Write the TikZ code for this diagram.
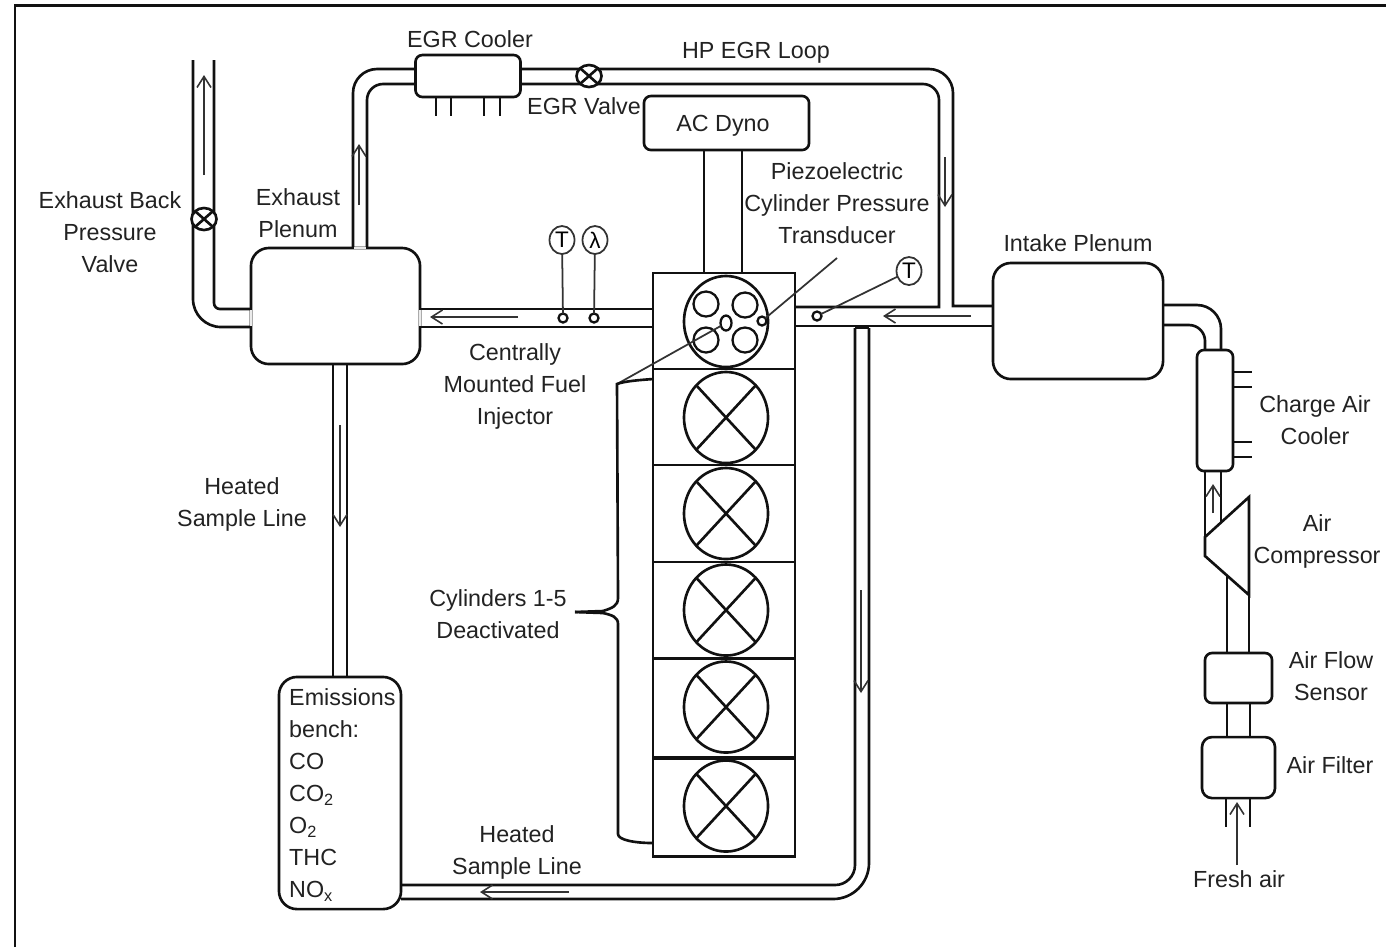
\documentclass[tikz,border=0pt]{standalone}
\usepackage{fontspec}
\setmainfont{Liberation Sans}
\usetikzlibrary{arrows.meta, positioning, calc, shapes.geometric}
\definecolor{inkblack}{HTML}{111111}
\definecolor{flowgray}{HTML}{333333}
\definecolor{textgray}{HTML}{222222}

\begin{document}
\begin{tikzpicture}[
  x=0.01cm, y=-0.01cm,
  wall/.style={draw=inkblack, line width=0.75pt},
  thinline/.style={draw=flowgray, line width=0.5pt},
  flow/.style={draw=flowgray, line width=0.45pt, -{Straight Barb[length=1.1mm, width=1.4mm]}},
  gapline/.style={draw=black!8, line width=0.75pt},
  box/.style={rectangle, rounded corners=1.8mm, draw=inkblack, line width=0.75pt, fill=white, outer sep=0pt},
  smallbox/.style={box, rounded corners=0.7mm},
  cell/.style={rectangle, draw=inkblack, line width=0.75pt, minimum width=1.42cm, outer sep=0pt},
  cyl/.style={ellipse, draw=inkblack, line width=0.75pt, minimum width=0.84cm, minimum height=0.91cm, inner sep=0pt, outer sep=0pt},
  port/.style={circle, draw=inkblack, line width=0.65pt, minimum size=0.25cm, inner sep=0pt, outer sep=0pt},
  ring/.style={circle, draw=inkblack, line width=0.65pt, fill=white, minimum size=0.09cm, inner sep=0pt, outer sep=0pt},
  valve/.style={ellipse, draw=inkblack, line width=0.75pt, fill=white, minimum width=0.25cm, minimum height=0.22cm, inner sep=0pt, outer sep=0pt},
  sensor/.style={ellipse, draw=flowgray, line width=0.5pt, fill=white, minimum width=0.25cm, minimum height=0.28cm, inner sep=0pt, outer sep=0pt, font=\fontsize{6.4}{8}\selectfont},
  lbl/.style={align=center, inner sep=0pt, text=textgray, font=\fontsize{6.63}{9.1}\selectfont},
]
\useasboundingbox (0,0) rectangle (1386,947);

% Frame
\coordinate (framea) at (15,947);
\coordinate (frameb) at (15,5.5);
\coordinate (framec) at (1386,5.5);
\draw[draw=inkblack, line width=0.6pt] (framea) -- (frameb) -- (framec);

% Engine
\node[cell, minimum height=0.96cm] (cell1) at (724,321) {};
\node[cell, minimum height=0.96cm, below=0pt of cell1] (cell2) {};
\node[cell, minimum height=0.97cm, below=0pt of cell2] (cell3) {};
\node[cell, minimum height=0.96cm, below=0pt of cell3] (cell4) {};
\node[cell, minimum height=1.00cm, below=0pt of cell4] (cell5) {};
\node[cell, minimum height=0.98cm, below=0pt of cell5] (cell6) {};
\draw[wall, line width=1.2pt] (cell5.south west) -- (cell5.south east);

\node[cyl] (head) at (726,321.5) {};
\node[cyl] (cyl2) at (726,417.5) {};
\node[cyl] (cyl3) at (726,513.5) {};
\node[cyl] (cyl4) at (726,610) {};
\node[cyl] (cyl5) at (726,707) {};
\node[cyl] (cyl6) at (726,806) {};
\draw[wall] (cyl2.north east) -- (cyl2.south west) (cyl2.north west) -- (cyl2.south east);
\draw[wall] (cyl3.north east) -- (cyl3.south west) (cyl3.north west) -- (cyl3.south east);
\draw[wall] (cyl4.north east) -- (cyl4.south west) (cyl4.north west) -- (cyl4.south east);
\draw[wall] (cyl5.north east) -- (cyl5.south west) (cyl5.north west) -- (cyl5.south east);
\draw[wall] (cyl6.north east) -- (cyl6.south west) (cyl6.north west) -- (cyl6.south east);

\node[port] (port1) at (706,304) {};
\node[port] (port2) at (745,305) {};
\node[port] (port3) at (706,340) {};
\node[port] (port4) at (745,340) {};
\node[ellipse, draw=inkblack, line width=0.65pt, minimum width=0.11cm, minimum height=0.15cm, inner sep=0pt, outer sep=0pt] (injector) at (726,323) {};
\node[ring] (transducer) at (762,321) {};

% Components
\node[box, minimum width=1.69cm, minimum height=1.16cm] (exhplenum) at (335.5,306) {};
\node[box, minimum width=1.70cm, minimum height=1.16cm] (intplenum) at (1078,321) {};
\node[smallbox, minimum width=1.05cm, minimum height=0.42cm] (cooler) at (468,76) {};
\node[smallbox, minimum width=1.65cm, minimum height=0.54cm] (dyno) at (726.5,123) {};
\node[box, minimum width=1.22cm, minimum height=2.32cm] (emisbox) at (340,793) {};
\node[smallbox, minimum width=0.36cm, minimum height=1.21cm] (cac) at (1215,410.5) {};
\node[smallbox, minimum width=0.67cm, minimum height=0.50cm] (airflow) at (1238.5,678) {};
\node[smallbox, rounded corners=1mm, minimum width=0.73cm, minimum height=0.61cm, below=3.4mm of airflow] (filter) {};

% Exhaust side pipes
\coordinate (tailleft) at (193,60);
\coordinate (tailright) at (214,60);
\draw[wall] (exhplenum.east |- 0,309) -- (cell1.west |- 0,309);
\draw[wall] (exhplenum.east |- 0,327) -- (cell1.west |- 0,327);
\draw[wall, rounded corners=2.8mm] (tailleft) -- (193,327) -- (exhplenum.west |- 0,327);
\draw[wall, rounded corners=0.6mm] (tailright) -- (214,309) -- (exhplenum.west |- 0,309);
\draw[wall] (333,0 |- exhplenum.south) -- (333,0 |- emisbox.north);
\draw[wall] (347,0 |- exhplenum.south) -- (347,0 |- emisbox.north);

% EGR loop
\draw[wall, rounded corners=2.4mm] (353,0 |- exhplenum.north) -- (353,69) -- (cooler.west |- 0,69);
\draw[wall, rounded corners=1.6mm] (367,0 |- exhplenum.north) -- (367,84) -- (cooler.west |- 0,84);
\draw[wall] (cooler.east |- 0,69) [rounded corners=2.4mm] -- (953,69) [sharp corners] -- (953,306) -- (intplenum.west |- 0,306);
\draw[wall] (cooler.east |- 0,84) [rounded corners=1.6mm] -- (939,84) [sharp corners] -- (939,307) -- (cell1.east |- 0,307);
\draw[wall] (cell1.east |- 0,326) -- (intplenum.west |- 0,326);

% Second sample line
\coordinate (samplea) at (855,328);
\coordinate (sampleb) at (869,328);
\draw[wall] (samplea) -- (sampleb);
\draw[wall, rounded corners=2mm] (samplea) -- (855,885) -- (emisbox.east |- 0,885);
\draw[wall, rounded corners=3.6mm] (sampleb) -- (869,899) -- (emisbox.east |- 0,899);

% Intake side pipes
\coordinate (compa) at (1205,537);
\coordinate (compb) at (1249,497);
\coordinate (compc) at (1249,595);
\coordinate (compd) at (1205,556);
\coordinate (compe) at (1221,522);
\coordinate (compf) at (1227,576);
\draw[wall, rounded corners=2.4mm] (intplenum.east |- 0,305) -- (1221,305) -- (1221,0 |- cac.north);
\draw[wall, rounded corners=1.6mm] (intplenum.east |- 0,325) -- (1205,325) -- (1205,0 |- cac.north);
\draw[wall] (compa) -- (compb) -- (compc) -- (compd) -- cycle;
\draw[wall] (1205,0 |- cac.south) -- (compa);
\draw[wall] (1221,0 |- cac.south) -- (compe);
\draw[wall] (compf) -- (compf |- airflow.north);
\draw[wall] (compc) -- (compc |- airflow.north);
\draw[wall] (1227,0 |- airflow.south) -- (1227,0 |- filter.north);
\draw[wall] (1250,0 |- airflow.south) -- (1250,0 |- filter.north);
\coordinate (inleta) at (1226,827);
\coordinate (inletb) at (1250,827);
\draw[wall] (inleta |- filter.south) -- (inleta);
\draw[wall] (inletb |- filter.south) -- (inletb);

% Dyno shaft
\draw[wall] (704,0 |- dyno.south) -- (704,0 |- cell1.north);
\draw[wall] (742,0 |- dyno.south) -- (742,0 |- cell1.north);

% Openings into the plenum
\draw[gapline] (exhplenum.west |- 0,310) -- (exhplenum.west |- 0,326);
\draw[gapline] (exhplenum.east |- 0,310) -- (exhplenum.east |- 0,326);
\draw[gapline] (354,0 |- exhplenum.north) -- (366,0 |- exhplenum.north);

% Cooler tabs
\coordinate (taba) at (436,116);
\coordinate (tabb) at (451,116);
\coordinate (tabc) at (484,116);
\coordinate (tabd) at (500,116);
\draw[wall] (taba |- cooler.south) -- (taba);
\draw[wall] (tabb |- cooler.south) -- (tabb);
\draw[wall] (tabc |- cooler.south) -- (tabc);
\draw[wall] (tabd |- cooler.south) -- (tabd);
\coordinate (fina) at (1252,372);
\coordinate (finb) at (1252,387);
\coordinate (finc) at (1252,442);
\coordinate (find) at (1252,457);
\draw[wall] (cac.east |- fina) -- (fina);
\draw[wall] (cac.east |- finb) -- (finb);
\draw[wall] (cac.east |- finc) -- (finc);
\draw[wall] (cac.east |- find) -- (find);

% Valves
\node[valve] (backvalve) at (204,219) {};
\node[valve] (egrvalve) at (589,76) {};
\draw[wall] (backvalve.north east) -- (backvalve.south west) (backvalve.north west) -- (backvalve.south east);
\draw[wall] (egrvalve.north east) -- (egrvalve.south west) (egrvalve.north west) -- (egrvalve.south east);

% Sensors
\node[ring] (ringa) at (563,318) {};
\node[ring] (ringb) at (594,318) {};
\node[ring] (ringc) at (817,316) {};
\node[sensor] (tempa) at (562,240) {T};
\node[sensor] (lambda) at (595,240) {λ};
\node[sensor] (tempb) at (909,271) {T};
\draw[thinline] (tempa) -- (ringa);
\draw[thinline] (lambda) -- (ringb);
\draw[thinline] (tempb) -- (ringc);

% Flow arrows
\coordinate (flowa) at (204,175); \coordinate (flowb) at (204,75);
\coordinate (flowc) at (359,205); \coordinate (flowd) at (359,144);
\coordinate (flowe) at (945,157); \coordinate (flowf) at (945,207);
\coordinate (flowg) at (518,317); \coordinate (flowh) at (430,317);
\coordinate (flowi) at (971,316); \coordinate (flowj) at (883,316);
\coordinate (flowk) at (340,425); \coordinate (flowl) at (340,527);
\coordinate (flowm) at (861,590); \coordinate (flown) at (861,693);
\coordinate (flowo) at (569,892); \coordinate (flowp) at (480,892);
\coordinate (flowq) at (1213,513); \coordinate (flowr) at (1213,484);
\coordinate (flows) at (1237,865); \coordinate (flowt) at (1237,802);
\draw[flow] (flowa) -- (flowb);
\draw[flow] (flowc) -- (flowd);
\draw[flow] (flowe) -- (flowf);
\draw[flow] (flowg) -- (flowh);
\draw[flow] (flowi) -- (flowj);
\draw[flow] (flowk) -- (flowl);
\draw[flow] (flowm) -- (flown);
\draw[flow] (flowo) -- (flowp);
\draw[flow] (flowq) -- (flowr);
\draw[flow] (flows) -- (flowt);

% Leaders and brace
\coordinate (piezoend) at (837,258);
\coordinate (bracetop) at (617,384);
\coordinate (bracetip) at (575,612);
\draw[thinline] (transducer) -- (piezoend);
\draw[thinline] (injector) -- (bracetop);
\draw[wall] (cell2.west |- 0,379) .. controls (640,380) and (625,381) .. (bracetop) -- (618,598)
  .. controls (618,606) and (612,608) .. (603,611) -- (bracetip);
\draw[wall] (bracetip) -- (603,613) .. controls (612,615) and (618,617) .. (618,624) -- (618,834)
  .. controls (618,840) and (635,843) .. (cell6.west |- 0,843);

% Labels
\node[lbl] (egrcoolerlbl) at (470,39) {EGR Cooler};
\node[lbl] (hploop) at (756,53) {HP EGR Loop};
\node[lbl] (egrvalvelbl) at (584,106) {EGR Valve};
\node[lbl] (dynolbl) at (723,126) {AC Dyno};
\node[lbl] (piezolbl) at (837,203) {Piezoelectric\\Cylinder Pressure\\Transducer};
\node[lbl] (backlbl) at (110,232) {Exhaust Back\\Pressure\\Valve};
\node[lbl] (exhlbl) at (298,213) {Exhaust\\Plenum};
\node[lbl] (intlbl) at (1078,243) {Intake Plenum};
\node[lbl] (injlbl) at (515,386) {Centrally\\Mounted Fuel\\Injector};
\node[lbl] (caclbl) at (1315,420) {Charge Air\\Cooler};
\node[lbl] (complbl) at (1317,541) {Air\\Compressor};
\node[lbl] (flowlbl) at (1331,676) {Air Flow\\Sensor};
\node[lbl] (filterlbl) at (1330,765) {Air Filter};
\node[lbl] (freshlbl) at (1239,879) {Fresh air};
\node[lbl] (samplelbl) at (242,504) {Heated\\Sample Line};
\node[lbl] (deactlbl) at (498,614) {Cylinders 1-5\\Deactivated};
\node[lbl] (samplelblb) at (517,852) {Heated\\Sample Line};
\node[lbl, align=left, anchor=west] (emislbl) at (288.5,795)
  {Emissions\\bench:\\CO\\CO\textsubscript{2}\\O\textsubscript{2}\\THC\\NO\textsubscript{x}};
\end{tikzpicture}
\end{document}
